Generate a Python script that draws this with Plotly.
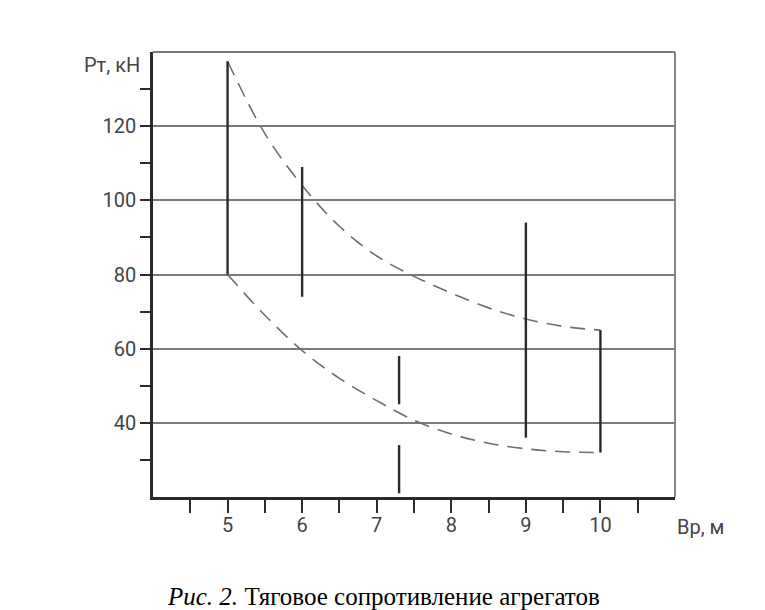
import plotly.graph_objects as go

# Data
bar_x = [5, 6, 7.3, 7.3, 9, 10]
bar_low = [80, 74, 45, 21, 36, 32]
bar_high = [137.5, 109, 58, 34, 94, 65]

curve_x = [5, 5.5, 6, 6.5, 7, 7.5, 8, 8.5, 9, 9.5, 10]
upper_y = [137.5, 118, 104, 93, 85, 79.5, 75, 71, 68, 66, 65]
lower_y = [80, 69, 59.5, 52, 46, 40.7, 37, 34.5, 33, 32.2, 32]

x_major = [5, 6, 7, 8, 9, 10]
x_minor = [4.5, 5.5, 6.5, 7.5, 8.5, 9.5, 10.5]
y_major = [40, 60, 80, 100, 120]
y_minor = [30, 50, 70, 90, 110, 130]

AXFONT = "Roboto, Liberation Sans Narrow, sans-serif"
DARK = "#2a2a2a"
GRID = "#7a7a7a"
TXT = "#444444"

fig = go.Figure()

# dashed envelope curves
for ys in (upper_y, lower_y):
    fig.add_trace(go.Scatter(
        x=curve_x, y=ys, mode="lines",
        line=dict(color="#6e6e6e", width=1.6, dash="15px,9px", shape="spline"),
        hoverinfo="skip", showlegend=False))

# vertical range bars
bx, by = [], []
for x, lo, hi in zip(bar_x, bar_low, bar_high):
    bx += [x, x, None]
    by += [lo, hi, None]
fig.add_trace(go.Scatter(
    x=bx, y=by, mode="lines",
    line=dict(color=DARK, width=2.4),
    hoverinfo="skip", showlegend=False))

fig.update_layout(
    width=757, height=602,
    margin=dict(l=145, r=90, t=44, b=113),
    paper_bgcolor="white", plot_bgcolor="white",
    showlegend=False,
    xaxis=dict(
        range=[4, 11], tickvals=x_major, ticktext=[str(v) for v in x_major],
        ticks="outside", ticklen=13, tickwidth=2, tickcolor=DARK,
        ticklabelstandoff=-5,
        showline=True, linecolor=DARK, linewidth=2.5,
        showgrid=False, zeroline=False,
        tickfont=dict(family=AXFONT, size=20, color=TXT),
        minor=dict(tickvals=x_minor, ticks="outside", ticklen=13,
                   tickwidth=2, tickcolor=DARK, showgrid=False),
    ),
    yaxis=dict(
        range=[20, 140], tickvals=y_major, ticktext=[str(v) for v in y_major],
        ticks="outside", ticklen=10, tickwidth=2, tickcolor=DARK,
        showline=True, linecolor=DARK, linewidth=2.5,
        showgrid=True, gridcolor=GRID, gridwidth=1.5, zeroline=False,
        tickfont=dict(family=AXFONT, size=20, color=TXT),
        minor=dict(tickvals=y_minor, ticks="outside", ticklen=10,
                   tickwidth=2, tickcolor=DARK, showgrid=False),
    ),
    shapes=[
        dict(type="line", xref="paper", yref="paper", x0=0, x1=1, y0=1, y1=1,
             line=dict(color=GRID, width=1.8)),
        dict(type="line", xref="paper", yref="paper", x0=1, x1=1, y0=0, y1=1,
             line=dict(color=GRID, width=1.8)),
    ],
    annotations=[
        dict(text="Рт, кН", xref="paper", yref="paper", x=-0.021, y=0.971,
             xanchor="right", yanchor="middle", showarrow=False,
             font=dict(family=AXFONT, size=20, color=TXT)),
        dict(text="Вр, м", xref="paper", yref="paper", x=1.0, y=-0.067,
             xanchor="left", yanchor="middle", showarrow=False,
             font=dict(family=AXFONT, size=20, color=TXT)),
        dict(text="<i>Рис. 2.</i> Тяговое сопротивление агрегатов",
             xref="paper", yref="paper", x=0.4425, y=-0.2247,
             xanchor="center", yanchor="middle", showarrow=False,
             font=dict(family="Liberation Serif, Times New Roman, serif",
                       size=25, color="black")),
    ],
)

fig.write_html("out.html")
